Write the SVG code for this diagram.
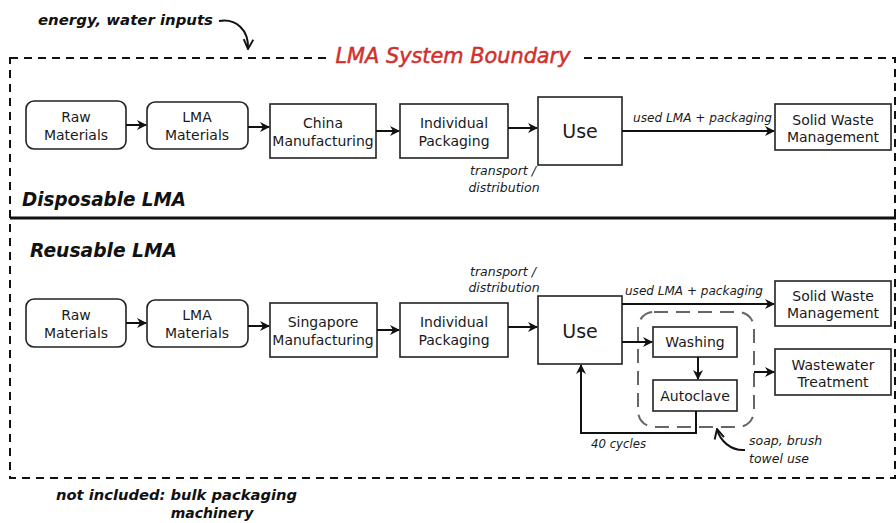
<svg xmlns="http://www.w3.org/2000/svg" width="896" height="523" viewBox="0 0 896 523">
<style>
.box{fill:#fff;stroke:#222;stroke-width:1.6}
.t{font-family:"DejaVu Sans",sans-serif;font-size:14px;fill:#1a1a1a;text-anchor:middle}
.use{font-family:"DejaVu Sans",sans-serif;font-size:19px;fill:#1a1a1a;text-anchor:middle}
.it{font-family:"DejaVu Sans",sans-serif;font-style:italic;font-size:12.5px;fill:#1a1a1a}
.bi{font-family:"DejaVu Sans",sans-serif;font-style:italic;font-weight:bold;fill:#111}
.c{fill:none;stroke:#111;stroke-width:2}
</style>
<defs>
<marker id="ah" viewBox="0 0 10 10" refX="9" refY="5" markerWidth="5" markerHeight="5" orient="auto" markerUnits="strokeWidth">
<path d="M0,0 L10,5 L0,10 L3,5 z" fill="#111"/>
</marker>
<marker id="av" viewBox="0 0 10 10" refX="9" refY="5" markerWidth="6" markerHeight="6" orient="auto" markerUnits="strokeWidth">
<path d="M1,1 L9,5 L1,9" fill="none" stroke="#111" stroke-width="1.6"/>
</marker>
</defs>
<rect width="896" height="523" fill="#fff"/>

<g id="boundary">
<rect x="10" y="58" width="885" height="420" fill="none" stroke="#111" stroke-width="2" stroke-dasharray="8,6"/>
<rect x="329" y="45" width="250" height="24" fill="#fff"/>
<text x="453" y="63" text-anchor="middle" font-family="DejaVu Sans, sans-serif" font-style="italic" font-size="21" fill="#d2302b" stroke="#d2302b" stroke-width="0.5" textLength="235" lengthAdjust="spacingAndGlyphs">LMA System Boundary</text>
<line x1="10" y1="218" x2="896" y2="218" stroke="#111" stroke-width="3"/>
</g>

<g id="labels">
<text class="bi" x="38" y="25" font-size="14" textLength="175" lengthAdjust="spacingAndGlyphs">energy, water inputs</text>
<text class="bi" x="22" y="206" font-size="19" textLength="164" lengthAdjust="spacingAndGlyphs">Disposable LMA</text>
<text class="bi" x="30" y="257" font-size="19" textLength="147" lengthAdjust="spacingAndGlyphs">Reusable LMA</text>
<text class="bi" x="56" y="500" font-size="14" textLength="241" lengthAdjust="spacingAndGlyphs">not included: bulk packaging</text>
<text class="bi" x="212" y="518" font-size="14" text-anchor="middle">machinery</text>
<text class="it" x="633" y="122" textLength="139" lengthAdjust="spacingAndGlyphs">used LMA + packaging</text>
<text class="it" x="503" y="175" text-anchor="middle">transport /</text>
<text class="it" x="504" y="192" text-anchor="middle">distribution</text>
<text class="it" x="503" y="276" text-anchor="middle">transport /</text>
<text class="it" x="504" y="292" text-anchor="middle">distribution</text>
<text class="it" x="625" y="295" textLength="138" lengthAdjust="spacingAndGlyphs">used LMA + packaging</text>
<text class="it" x="591" y="448" textLength="55" lengthAdjust="spacingAndGlyphs">40 cycles</text>
<text class="it" x="749" y="445" font-size="13.5">soap, brush</text>
<text class="it" x="749" y="463" font-size="13.5">towel use</text>
</g>

<g id="disp-raw"><rect class="box" x="26" y="101" width="100" height="48" rx="8"/><text class="t" x="76" y="122">Raw</text><text class="t" x="76" y="140">Materials</text></g>
<g id="disp-lma"><rect class="box" x="147" y="102" width="101" height="47" rx="8"/><text class="t" x="197" y="122">LMA</text><text class="t" x="197" y="140">Materials</text></g>
<g id="disp-mfg"><rect class="box" x="270" y="104" width="106" height="54"/><text class="t" x="323" y="128">China</text><text class="t" x="323" y="146">Manufacturing</text></g>
<g id="disp-pkg"><rect class="box" x="400" y="104" width="108" height="54"/><text class="t" x="454" y="128">Individual</text><text class="t" x="454" y="146">Packaging</text></g>
<g id="disp-use"><rect class="box" x="538" y="97" width="84" height="68"/><text class="use" x="580" y="138">Use</text></g>
<g id="disp-swm"><rect class="box" x="775" y="104" width="116" height="46"/><text class="t" x="833" y="125">Solid Waste</text><text class="t" x="833" y="142">Management</text></g>

<g id="reu-raw"><rect class="box" x="26" y="299" width="100" height="48" rx="8"/><text class="t" x="76" y="320">Raw</text><text class="t" x="76" y="338">Materials</text></g>
<g id="reu-lma"><rect class="box" x="147" y="300" width="101" height="47" rx="8"/><text class="t" x="197" y="320">LMA</text><text class="t" x="197" y="338">Materials</text></g>
<g id="reu-mfg"><rect class="box" x="270" y="303" width="107" height="54"/><text class="t" x="323" y="327">Singapore</text><text class="t" x="323" y="345">Manufacturing</text></g>
<g id="reu-pkg"><rect class="box" x="400" y="303" width="108" height="54"/><text class="t" x="454" y="327">Individual</text><text class="t" x="454" y="345">Packaging</text></g>
<g id="reu-use"><rect class="box" x="538" y="296" width="84" height="68"/><text class="use" x="580" y="338">Use</text></g>
<g id="reu-swm"><rect class="box" x="775" y="281" width="116" height="45"/><text class="t" x="833" y="301">Solid Waste</text><text class="t" x="833" y="318">Management</text></g>
<g id="reu-wwt"><rect class="box" x="775" y="349" width="116" height="46"/><text class="t" x="833" y="370">Wastewater</text><text class="t" x="833" y="387">Treatment</text></g>
<g id="reu-group"><rect x="638" y="312" width="116" height="115" rx="16" fill="none" stroke="#666" stroke-width="2" stroke-dasharray="14,8"/></g>
<g id="reu-wash"><rect class="box" x="653" y="327" width="84" height="30"/><text class="t" x="695" y="347">Washing</text></g>
<g id="reu-auto"><rect class="box" x="653" y="380" width="84" height="31"/><text class="t" x="695" y="401">Autoclave</text></g>

<g id="connectors">
<line class="c" x1="126" y1="125" x2="146" y2="125" marker-end="url(#ah)"/>
<line class="c" x1="248" y1="127" x2="269" y2="127" marker-end="url(#ah)"/>
<line class="c" x1="376" y1="131" x2="399" y2="131" marker-end="url(#ah)"/>
<line class="c" x1="508" y1="128" x2="537" y2="128" marker-end="url(#ah)"/>
<line class="c" x1="622" y1="131" x2="774" y2="131" marker-end="url(#ah)"/>
<line class="c" x1="126" y1="323" x2="146" y2="323" marker-end="url(#ah)"/>
<line class="c" x1="248" y1="326" x2="269" y2="326" marker-end="url(#ah)"/>
<line class="c" x1="377" y1="330" x2="399" y2="330" marker-end="url(#ah)"/>
<line class="c" x1="508" y1="327" x2="537" y2="327" marker-end="url(#ah)"/>
<line class="c" x1="622" y1="304" x2="774" y2="304" marker-end="url(#ah)"/>
<line class="c" x1="622" y1="342" x2="652" y2="342" marker-end="url(#ah)"/>
<line class="c" x1="698" y1="357" x2="698" y2="379" marker-end="url(#ah)"/>
<line class="c" x1="754" y1="372" x2="774" y2="372" marker-end="url(#ah)"/>
<polyline class="c" points="696,411 696,433 581,433 581,365" marker-end="url(#ah)"/>
<path class="c" d="M219,21 C236,18 249,30 248,49" marker-end="url(#av)"/>
<path class="c" d="M745,450 C731,451 720,441 717,429" marker-end="url(#av)"/>
</g>
</svg>
